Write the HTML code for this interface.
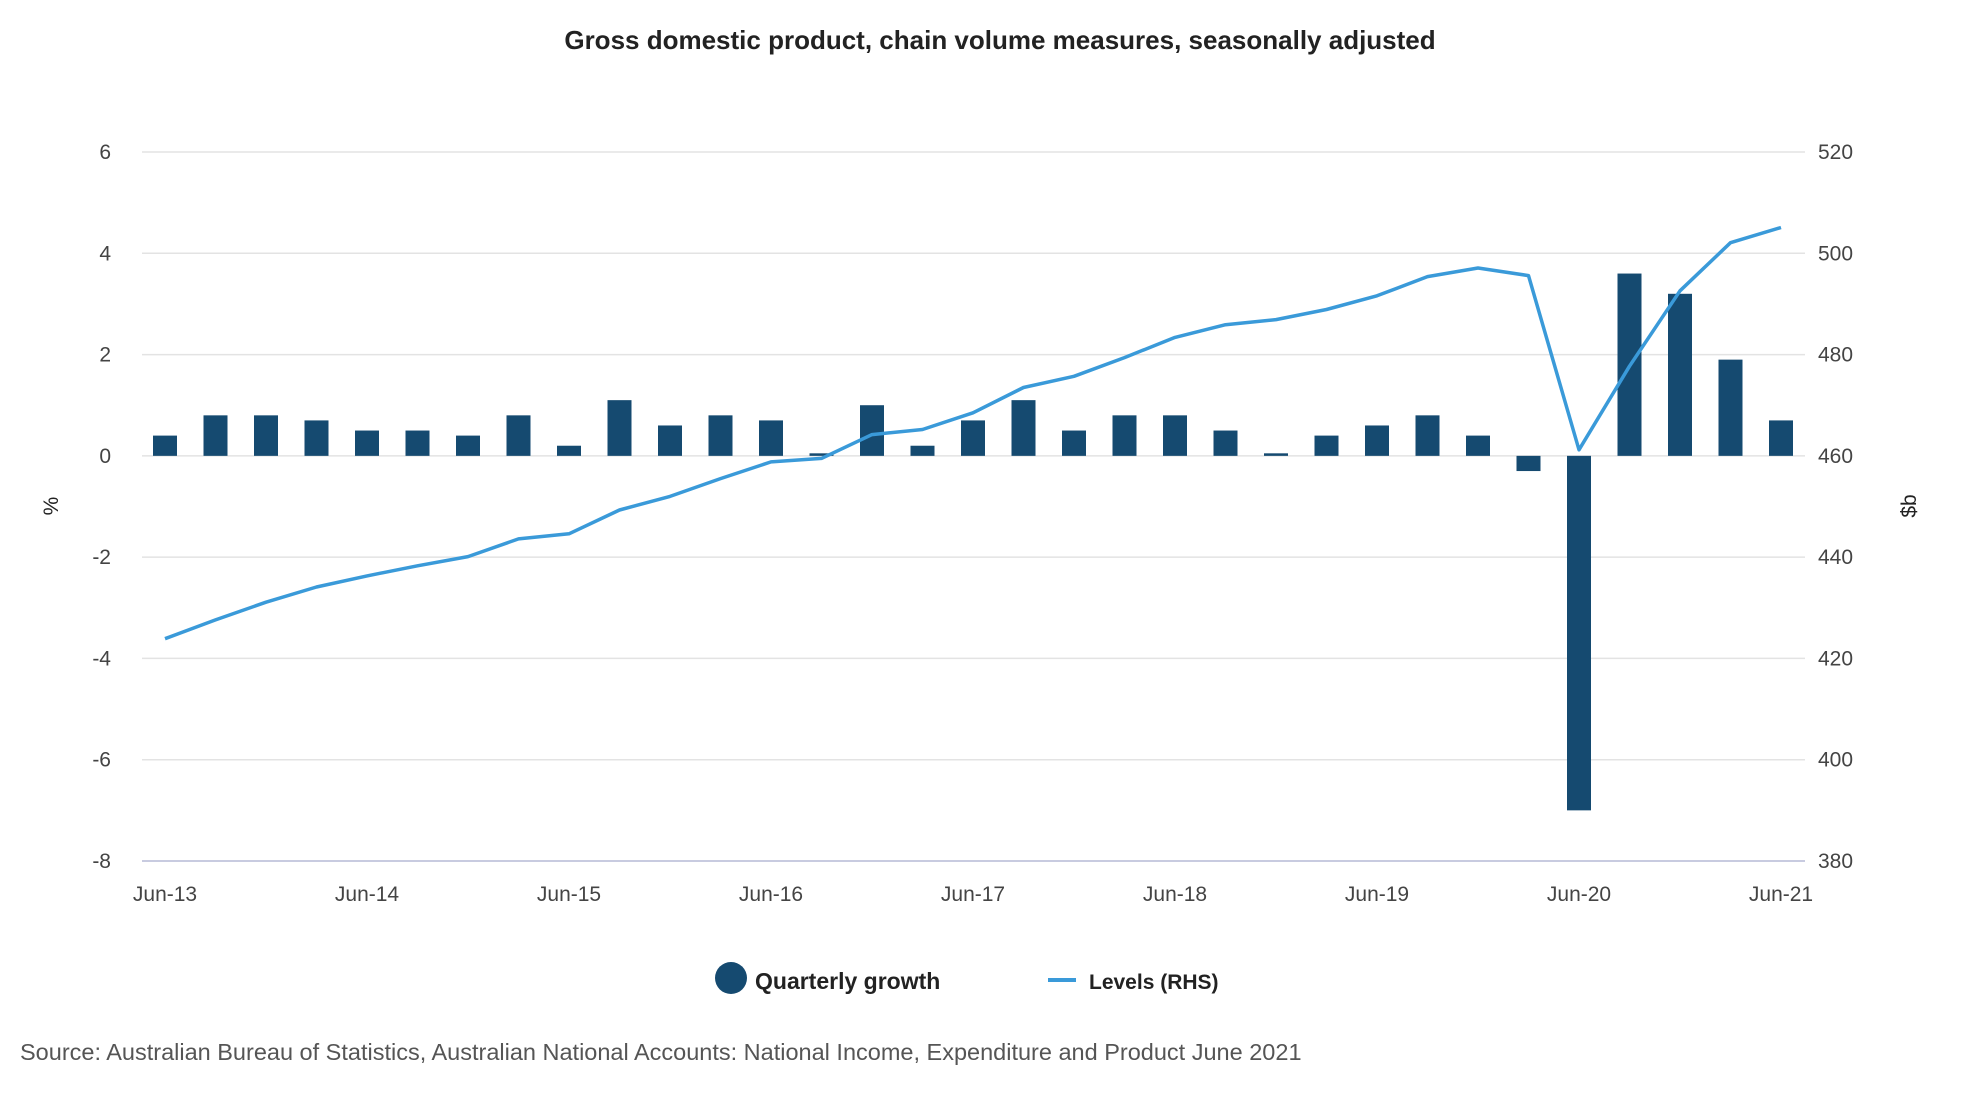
<!DOCTYPE html>
<html><head><meta charset="utf-8"><style>
html,body{margin:0;padding:0;background:#fff;}
svg text{font-family:"Liberation Sans",sans-serif;}
</style></head><body>
<svg id="chart" width="1980" height="1100" viewBox="0 0 1980 1100" xmlns="http://www.w3.org/2000/svg">
<text x="1000" y="49" text-anchor="middle" font-size="26" font-weight="bold" fill="#222">Gross domestic product, chain volume measures, seasonally adjusted</text>
<g id="grid"></g><g id="bars"></g><g id="line"></g><g id="axes"></g>
<text transform="translate(58,506) rotate(-90)" text-anchor="middle" font-size="21" fill="#222">%</text>
<text transform="translate(1916,506) rotate(-90)" text-anchor="middle" font-size="21" fill="#222">$b</text>
<g>
<circle cx="731" cy="978" r="16" fill="#154a70"/>
<text x="755" y="989" font-size="23" font-weight="bold" fill="#222">Quarterly growth</text>
<line x1="1048" y1="980" x2="1076" y2="980" stroke="#3a9ad9" stroke-width="4"/>
<text x="1089" y="989" font-size="21" font-weight="bold" fill="#222">Levels (RHS)</text>
</g>
<text x="20" y="1060" font-size="23.5" fill="#555">Source: Australian Bureau of Statistics, Australian National Accounts: National Income, Expenditure and Product June 2021</text>
</svg>
<script>
const categories=["Jun-13","Sep-13","Dec-13","Mar-14","Jun-14","Sep-14","Dec-14","Mar-15","Jun-15","Sep-15","Dec-15","Mar-16","Jun-16","Sep-16","Dec-16","Mar-17","Jun-17","Sep-17","Dec-17","Mar-18","Jun-18","Sep-18","Dec-18","Mar-19","Jun-19","Sep-19","Dec-19","Mar-20","Jun-20","Sep-20","Dec-20","Mar-21","Jun-21"];
const growth=[0.4,0.8,0.8,0.7,0.5,0.5,0.4,0.8,0.2,1.1,0.6,0.8,0.7,0.05,1.0,0.2,0.7,1.1,0.5,0.8,0.8,0.5,0.05,0.4,0.6,0.8,0.4,-0.3,-7.0,3.6,3.2,1.9,0.7];
const levels=[423.9,427.6,431.1,434.1,436.3,438.3,440.1,443.6,444.6,449.3,452.0,455.5,458.8,459.5,464.2,465.2,468.5,473.5,475.7,479.4,483.4,485.9,486.9,488.9,491.6,495.4,497.1,495.6,461.2,477.7,492.6,502.1,505.1];
const leftTicks=[6,4,2,0,-2,-4,-6,-8];
const rightTicks=[520,500,480,460,440,420,400,380];
const xTickLabels=["Jun-13","Jun-14","Jun-15","Jun-16","Jun-17","Jun-18","Jun-19","Jun-20","Jun-21"];
const NS="http://www.w3.org/2000/svg";
const X0=142,X1=1805,TOP=152,BOT=861,PX0=165,PX1=1781;
const yL=v=>TOP+(6-v)/14*(BOT-TOP);
const yR=v=>TOP+(520-v)/140*(BOT-TOP);
const xC=i=>PX0+i*(PX1-PX0)/(categories.length-1);
function mk(tag,attrs,parent){const e=document.createElementNS(NS,tag);for(const k in attrs)e.setAttribute(k,attrs[k]);parent.appendChild(e);return e;}
const grid=document.getElementById('grid'),axes=document.getElementById('axes'),bars=document.getElementById('bars'),line=document.getElementById('line');
leftTicks.forEach((t,i)=>{
 const g=mk('line',{x1:X0,x2:X1,y1:yL(t),y2:yL(t),stroke:t===-8?'#c8cbe0':'#e3e3e3','stroke-width':t===-8?2:1.5},grid);
 
 
 const a=mk('text',{x:111,y:yL(t)+7,'text-anchor':'end','font-size':21,fill:'#444'},axes);a.textContent=t;
 
 
});
rightTicks.forEach(t=>{
 const a=mk('text',{x:1818,y:yR(t)+7,'font-size':21,fill:'#444'},axes);a.textContent=t;
 
 
});
xTickLabels.forEach(l=>{
 const i=categories.indexOf(l);
 const a=mk('text',{x:xC(i),y:901,'text-anchor':'middle','font-size':21,fill:'#444'},axes);a.textContent=l;
 
 
});
const bw=24;
growth.forEach((v,i)=>{
 const y0=yL(0),y1=yL(v);
 const r=mk('rect',{x:xC(i)-bw/2,y:Math.min(y0,y1),width:bw,height:Math.max(1.5,Math.abs(y1-y0)),fill:'#154a70'},bars);
 
 
});
const pts=levels.map((v,i)=>xC(i).toFixed(1)+','+yR(v).toFixed(1)).join(' ');
const pl=mk('polyline',{points:pts,fill:'none',stroke:'#3a9ad9','stroke-width':3.5,'stroke-linejoin':'round'},line);


</script>
</body></html>
